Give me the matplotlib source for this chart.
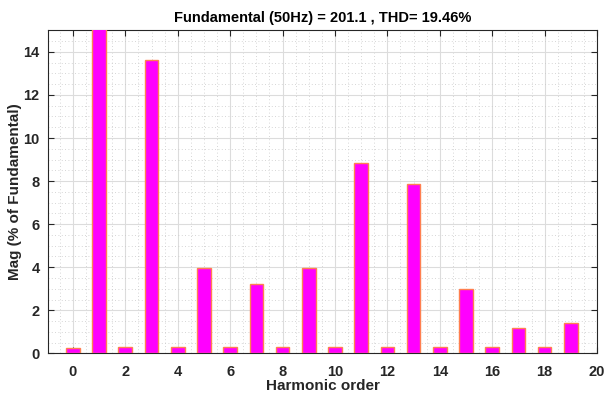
import matplotlib
matplotlib.use("Agg")
import matplotlib.pyplot as plt
from matplotlib.ticker import MultipleLocator

# harmonic spectrum (% of fundamental); h1 is the fundamental, clipped by ylim
harmonics = list(range(0, 20))
mags = [0.25, 100.0, 0.29, 13.63, 0.29, 3.97, 0.29, 3.21, 0.29, 3.97,
        0.29, 8.85, 0.29, 7.85, 0.29, 3.01, 0.29, 1.16, 0.29, 1.40]

plt.rcParams['font.family'] = ['Liberation Sans', 'DejaVu Sans']
plt.rcParams['font.weight'] = 'bold'

fig = plt.figure(figsize=(6.06, 3.94), dpi=100)
ax = fig.add_axes([0.0792, 0.103, 0.906, 0.820])

ax.bar(harmonics, mags, width=0.52, color='#FF00FF', edgecolor='#FF8050',
       linewidth=1.0, zorder=3)

ax.set_xlim(-0.95, 20)
ax.set_ylim(0, 15)
ax.xaxis.set_major_locator(MultipleLocator(2))
ax.xaxis.set_minor_locator(MultipleLocator(0.5))
ax.yaxis.set_major_locator(MultipleLocator(2))
ax.yaxis.set_minor_locator(MultipleLocator(0.5))

ax.grid(which='major', color='#dcdcdc', linewidth=0.8, zorder=0)
ax.grid(which='minor', color='#c8c8c8', linestyle=(0, (1, 3)), linewidth=0.6, zorder=0)
ax.set_axisbelow(True)

ax.tick_params(which='major', direction='in', top=True, right=True, length=4,
               labelsize=10.5, colors='#262626', width=0.8)
ax.tick_params(axis='x', which='major', pad=8)
ax.tick_params(axis='y', which='major', pad=6)
ax.tick_params(which='minor', length=0)
for s in ax.spines.values():
    s.set_color('#262626')
    s.set_linewidth(0.8)

ax.set_xlabel("Harmonic order", fontsize=11, fontweight='bold', color='#262626', labelpad=0)
ax.set_ylabel("Mag (% of Fundamental)", fontsize=11, fontweight='bold', color='#262626', labelpad=1)
ax.set_title("Fundamental (50Hz) = 201.1 , THD= 19.46%", fontsize=10.5, fontweight='bold',
             color='#000000', pad=6)

fig.savefig("out.png", dpi=100)
